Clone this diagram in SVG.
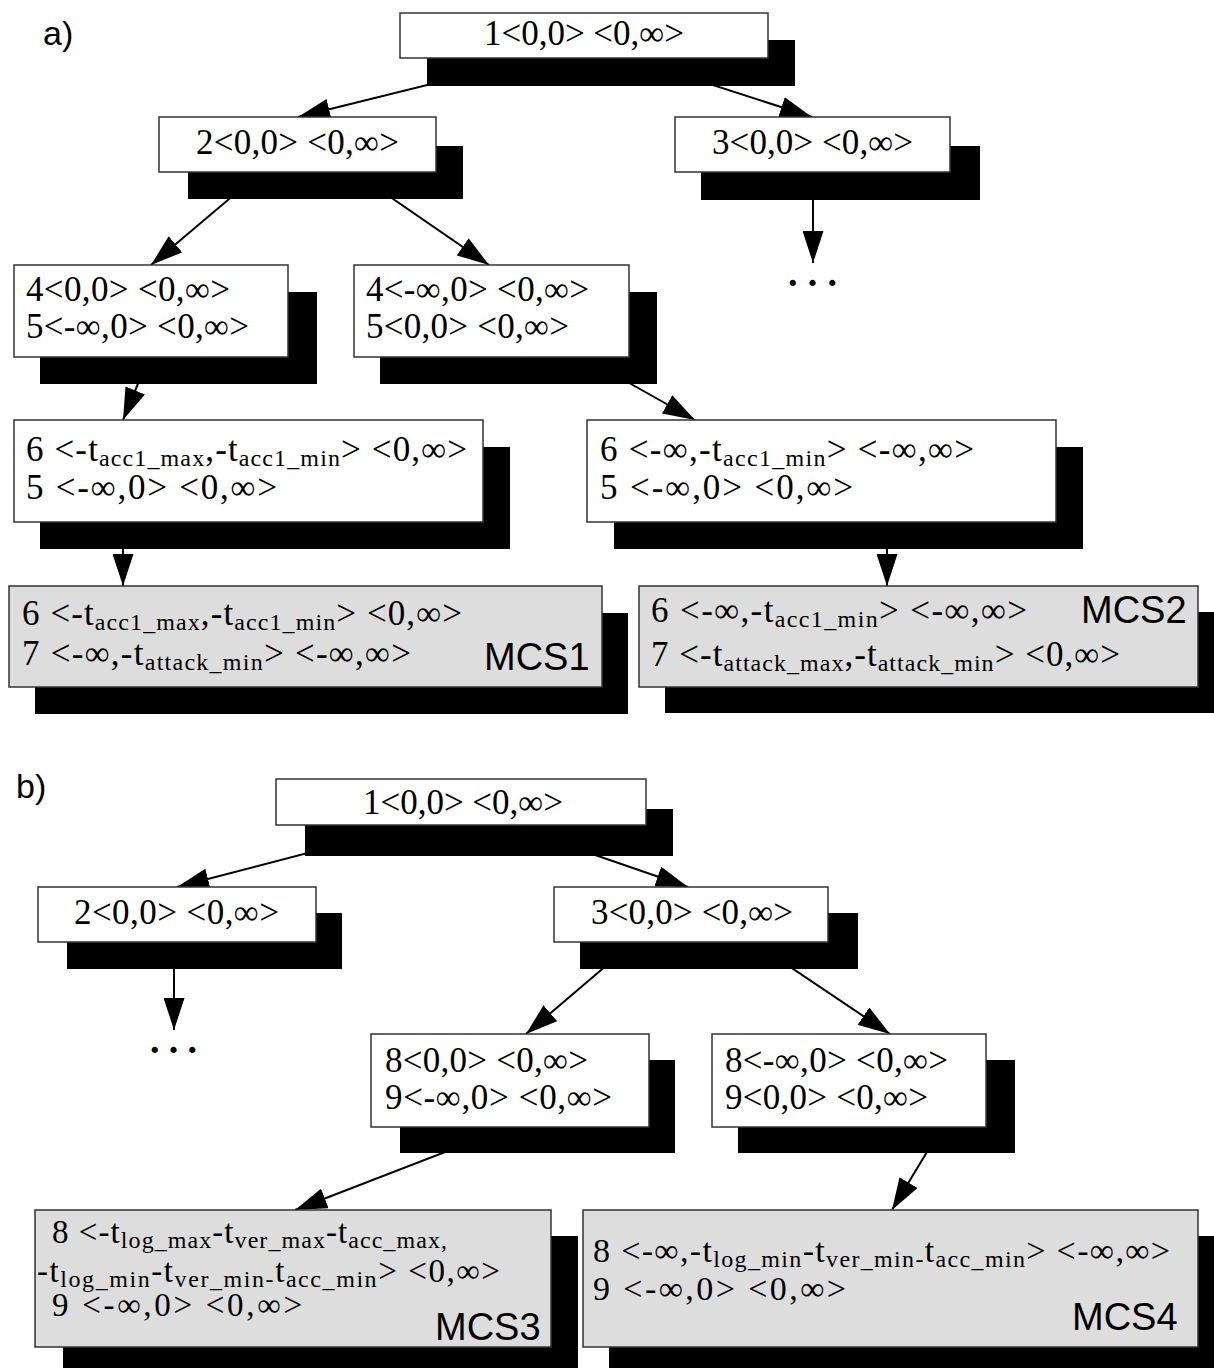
<svg xmlns="http://www.w3.org/2000/svg" width="1214" height="1368" viewBox="0 0 1214 1368">
<style>
.sh{fill:#000}
.bx{fill:#fff;stroke:#333;stroke-width:1.5}
.mcs{fill:#dddddd;stroke:#333;stroke-width:1.5}
.t{font-family:"Liberation Serif","Times New Roman",serif;font-size:35px;fill:#000}
.t2{font-family:"Liberation Serif","Times New Roman",serif;font-size:33px;fill:#000}
.t3{font-family:"Liberation Serif","Times New Roman",serif;font-size:34px;fill:#000}
.s{font-size:24px}
.dots{font-family:"Liberation Serif","Times New Roman",serif;font-size:38px;font-weight:bold;fill:#000}
.lab{font-family:"Liberation Sans",Arial,sans-serif;font-size:38px;fill:#000}
.pl{font-family:"Liberation Sans",Arial,sans-serif;font-size:34px;fill:#000}
.c{stroke:#000;stroke-width:2;fill:none;marker-end:url(#ah)}
</style>
<defs>
<marker id="ah" markerUnits="userSpaceOnUse" viewBox="0 0 32 21" markerWidth="32" markerHeight="21" refX="32" refY="10.5" orient="auto">
<path d="M0,0 L32,10.5 L0,21 z" fill="#000"/>
</marker>
</defs>
<rect width="1214" height="1368" fill="#fff"/>

<g id="connectors">
<line class="c" x1="536" y1="58" x2="298" y2="117"/>
<line class="c" x1="629" y1="58" x2="812" y2="117"/>
<line class="c" x1="261" y1="172" x2="151" y2="265"/>
<line class="c" x1="354" y1="172" x2="489" y2="265"/>
<line class="c" x1="813" y1="172" x2="813" y2="263"/>
<line class="c" x1="149" y1="357" x2="123" y2="420"/>
<line class="c" x1="583" y1="357" x2="695" y2="420"/>
<line class="c" x1="123" y1="522" x2="123" y2="586"/>
<line class="c" x1="887" y1="522" x2="887" y2="586"/>
<line class="c" x1="415" y1="825" x2="177" y2="887"/>
<line class="c" x1="508" y1="825" x2="688" y2="887"/>
<line class="c" x1="174" y1="942" x2="174" y2="1030"/>
<line class="c" x1="634" y1="942" x2="526" y2="1034"/>
<line class="c" x1="753" y1="942" x2="890" y2="1034"/>
<line class="c" x1="510" y1="1127" x2="295" y2="1210"/>
<line class="c" x1="942" y1="1127" x2="892" y2="1210"/>
</g>

<g id="labels">
<text class="pl" x="43" y="45">a)</text>
<text class="pl" x="16" y="798">b)</text>
<text class="dots" x="788" y="286" textLength="49">. . .</text>
<text class="dots" x="150" y="1053" textLength="47">. . .</text>
</g>

<g id="a1">
<rect class="sh" x="427" y="40" width="368" height="46"/>
<rect class="bx" x="400" y="13" width="368" height="45"/>
<text class="t" x="484" y="45" textLength="200">1&lt;0,0&gt; &lt;0,∞&gt;</text>
</g>
<g id="a2">
<rect class="sh" x="188" y="146" width="275" height="53"/>
<rect class="bx" x="159" y="117" width="277" height="55"/>
<text class="t" x="196" y="154" textLength="203">2&lt;0,0&gt; &lt;0,∞&gt;</text>
</g>
<g id="a3">
<rect class="sh" x="701" y="146" width="279" height="54"/>
<rect class="bx" x="675" y="117" width="275" height="55"/>
<text class="t" x="712" y="154" textLength="201">3&lt;0,0&gt; &lt;0,∞&gt;</text>
</g>
<g id="a4l">
<rect class="sh" x="40" y="292" width="277" height="92"/>
<rect class="bx" x="14" y="265" width="274" height="92"/>
<text class="t" x="26" y="301" textLength="204">4&lt;0,0&gt; &lt;0,∞&gt;</text>
<text class="t" x="26" y="338" textLength="223">5&lt;-∞,0&gt; &lt;0,∞&gt;</text>
</g>
<g id="a4r">
<rect class="sh" x="380" y="292" width="277" height="92"/>
<rect class="bx" x="354" y="265" width="275" height="92"/>
<text class="t" x="366" y="301" textLength="223">4&lt;-∞,0&gt; &lt;0,∞&gt;</text>
<text class="t" x="366" y="338" textLength="203">5&lt;0,0&gt; &lt;0,∞&gt;</text>
</g>
<g id="a6l">
<rect class="sh" x="40" y="447" width="470" height="102"/>
<rect class="bx" x="14" y="420" width="469" height="102"/>
<text class="t" x="26" y="461" textLength="441">6 &lt;-t<tspan class="s" dy="5">acc1_max</tspan><tspan dy="-5">,-t</tspan><tspan class="s" dy="5">acc1_min</tspan><tspan dy="-5">&gt; &lt;0,∞&gt;</tspan></text>
<text class="t" x="26" y="499" textLength="251">5 &lt;-∞,0&gt; &lt;0,∞&gt;</text>
</g>
<g id="a6r">
<rect class="sh" x="614" y="447" width="469" height="102"/>
<rect class="bx" x="587" y="420" width="469" height="102"/>
<text class="t" x="600" y="461" textLength="374">6 &lt;-∞,-t<tspan class="s" dy="5">acc1_min</tspan><tspan dy="-5">&gt; &lt;-∞,∞&gt;</tspan></text>
<text class="t" x="600" y="499" textLength="253">5 &lt;-∞,0&gt; &lt;0,∞&gt;</text>
</g>
<g id="mcs1">
<rect class="sh" x="35" y="613" width="593" height="101"/>
<rect class="mcs" x="9" y="586" width="593" height="101"/>
<text class="t" x="22" y="625" textLength="440">6 &lt;-t<tspan class="s" dy="5">acc1_max</tspan><tspan dy="-5">,-t</tspan><tspan class="s" dy="5">acc1_min</tspan><tspan dy="-5">&gt; &lt;0,∞&gt;</tspan></text>
<text class="t" x="22" y="665" textLength="389">7 &lt;-∞,-t<tspan class="s" dy="5">attack_min</tspan><tspan dy="-5">&gt; &lt;-∞,∞&gt;</tspan></text>
<text class="lab" x="484" y="670">MCS1</text>
</g>
<g id="mcs2">
<rect class="sh" x="665" y="612" width="560" height="101"/>
<rect class="mcs" x="639" y="586" width="559" height="101"/>
<text class="t" x="651" y="622" textLength="376">6 &lt;-∞,-t<tspan class="s" dy="5">acc1_min</tspan><tspan dy="-5">&gt; &lt;-∞,∞&gt;</tspan></text>
<text class="t" x="651" y="666" textLength="469">7 &lt;-t<tspan class="s" dy="5">attack_max</tspan><tspan dy="-5">,-t</tspan><tspan class="s" dy="5">attack_min</tspan><tspan dy="-5">&gt; &lt;0,∞&gt;</tspan></text>
<text class="lab" x="1081" y="623">MCS2</text>
</g>

<g id="b1">
<rect class="sh" x="305" y="809" width="368" height="47"/>
<rect class="bx" x="276" y="779" width="370" height="46"/>
<text class="t" x="363" y="814" textLength="200">1&lt;0,0&gt; &lt;0,∞&gt;</text>
</g>
<g id="b2">
<rect class="sh" x="67" y="913" width="275" height="56"/>
<rect class="bx" x="38" y="887" width="278" height="55"/>
<text class="t" x="74" y="924" textLength="205">2&lt;0,0&gt; &lt;0,∞&gt;</text>
</g>
<g id="b3">
<rect class="sh" x="580" y="913" width="278" height="56"/>
<rect class="bx" x="554" y="887" width="274" height="55"/>
<text class="t" x="591" y="924" textLength="202">3&lt;0,0&gt; &lt;0,∞&gt;</text>
</g>
<g id="b8l">
<rect class="sh" x="400" y="1060" width="275" height="93"/>
<rect class="bx" x="371" y="1034" width="278" height="93"/>
<text class="t" x="385" y="1072" textLength="203">8&lt;0,0&gt; &lt;0,∞&gt;</text>
<text class="t" x="385" y="1109" textLength="227">9&lt;-∞,0&gt; &lt;0,∞&gt;</text>
</g>
<g id="b8r">
<rect class="sh" x="738" y="1060" width="277" height="93"/>
<rect class="bx" x="712" y="1034" width="274" height="93"/>
<text class="t" x="725" y="1072" textLength="223">8&lt;-∞,0&gt; &lt;0,∞&gt;</text>
<text class="t" x="725" y="1109" textLength="203">9&lt;0,0&gt; &lt;0,∞&gt;</text>
</g>
<g id="mcs3">
<rect class="sh" x="63" y="1236" width="515" height="140"/>
<rect class="mcs" x="35" y="1210" width="516" height="137"/>
<text class="t2" x="52" y="1243" textLength="395">8 &lt;-t<tspan class="s" dy="5">log_max</tspan><tspan dy="-5">-t</tspan><tspan class="s" dy="5">ver_max</tspan><tspan dy="-5">-t</tspan><tspan class="s" dy="5">acc_max,</tspan></text>
<text class="t2" x="37" y="1282" textLength="463">-t<tspan class="s" dy="5">log_min</tspan><tspan dy="-5">-t</tspan><tspan class="s" dy="5">ver_min-</tspan><tspan dy="-5">t</tspan><tspan class="s" dy="5">acc_min</tspan><tspan dy="-5">&gt; &lt;0,∞&gt;</tspan></text>
<text class="t2" x="52" y="1316" textLength="250">9 &lt;-∞,0&gt; &lt;0,∞&gt;</text>
<text class="lab" x="435" y="1340">MCS3</text>
</g>
<g id="mcs4">
<rect class="sh" x="609" y="1236" width="616" height="140"/>
<rect class="mcs" x="583" y="1210" width="615" height="137"/>
<text class="t3" x="593" y="1262" textLength="577">8 &lt;-∞,-t<tspan class="s" dy="5">log_min</tspan><tspan dy="-5">-t</tspan><tspan class="s" dy="5">ver_min-</tspan><tspan dy="-5">t</tspan><tspan class="s" dy="5">acc_min</tspan><tspan dy="-5">&gt; &lt;-∞,∞&gt;</tspan></text>
<text class="t3" x="593" y="1300" textLength="253">9 &lt;-∞,0&gt; &lt;0,∞&gt;</text>
<text class="lab" x="1072" y="1330">MCS4</text>
</g>
</svg>
